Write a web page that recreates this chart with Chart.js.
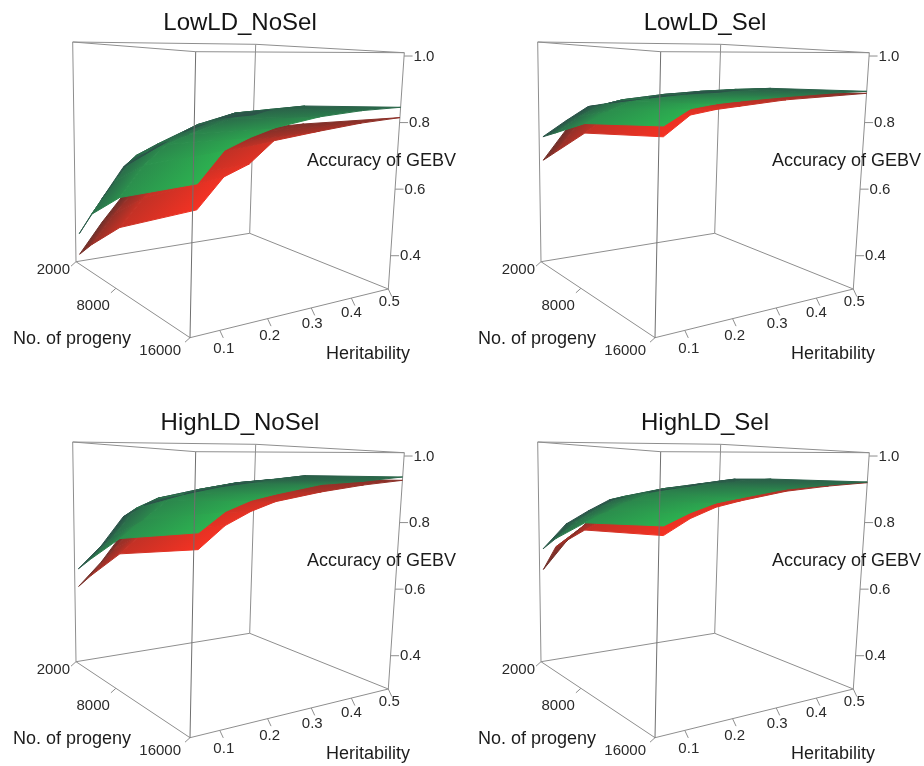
<!DOCTYPE html>
<html>
<head>
<meta charset="utf-8">
<title>Accuracy of GEBV surfaces</title>
<script src="https://cdn.jsdelivr.net/npm/chart.js@4"></script>
<style>
html,body{margin:0;padding:0;background:#fff;width:924px;height:766px;overflow:hidden}
#wrap{position:relative;width:924px;height:766px;overflow:hidden}
canvas{position:absolute;filter:blur(0.45px)}
</style>
</head>
<body>
<div id="wrap"></div>
<script>
// ---------- data ----------
const panelTitles = ["LowLD_NoSel", "LowLD_Sel", "HighLD_NoSel", "HighLD_Sel"];
const heritabilityLevels = [0.05, 0.1, 0.15, 0.2, 0.3, 0.4, 0.5];
const progenyLevels = [2000, 4000, 8000, 16000];
const heritabilityTicks = [0.1, 0.2, 0.3, 0.4, 0.5];
const progenyTicks = [2000, 8000, 16000];
const accuracyTicks = [0.4, 0.6, 0.8, 1.0];

// rows: heritability level; columns: progeny level
const lowNoSelGreen = [
  [.389,.472,.564,.681],[.492,.567,.652,.759],[.591,.646,.709,.787],[.627,.678,.736,.808],
  [.697,.735,.777,.831],[.739,.768,.801,.842],[.745,.773,.807,.846]];
const lowNoSelRed = [
  [.322,.377,.476,.616],[.415,.465,.555,.691],[.498,.538,.608,.718],[.55,.59,.66,.774],
  [.62,.65,.70,.791],[.665,.69,.73,.806],[.687,.709,.745,.815]];
const lowSelGreen = [
  [.703,.728,.781,.825],[.751,.775,.815,.865],[.795,.81,.84,.875],[.804,.825,.85,.88],
  [.817,.838,.86,.887],[.827,.845,.868,.892],[.83,.845,.868,.894]];
const lowSelRed = [
  [.627,.668,.753,.798],[.721,.755,.80,.849],[.748,.78,.82,.86],[.765,.795,.83,.866],
  [.785,.815,.85,.878],[.80,.825,.857,.883],[.805,.825,.855,.888]];
const highNoSelGreen = [
  [.599,.646,.737,.808],[.668,.715,.79,.858],[.76,.80,.845,.884],[.797,.83,.865,.898],
  [.83,.855,.89,.921],[.854,.875,.90,.927],[.868,.884,.912,.937]];
const highNoSelRed = [
  [.542,.594,.692,.766],[.615,.67,.75,.822],[.707,.75,.80,.855],[.75,.79,.835,.878],
  [.80,.83,.87,.90],[.83,.855,.89,.916],[.845,.865,.90,.927]];
const highSelGreen = [
  [.664,.71,.783,.825],[.74,.765,.815,.855],[.78,.805,.845,.877],[.815,.835,.865,.888],
  [.838,.858,.885,.908],[.854,.872,.895,.916],[.872,.886,.90,.922]];
const highSelRed = [
  [.597,.684,.762,.801],[.682,.735,.795,.84],[.746,.785,.83,.866],[.78,.815,.85,.88],
  [.81,.84,.875,.902],[.835,.86,.89,.913],[.85,.87,.895,.92]];

// ---------- view (camera) and style ----------
const panelGreen = [lowNoSelGreen, lowSelGreen, highNoSelGreen, highSelGreen];
const panelRed = [lowNoSelRed, lowSelRed, highNoSelRed, highSelRed];
const panelOrigins = [[0,0],[465,0],[0,400],[465,400]];
const CW = 480, CH = 366, TITLE_H = 37.8;
const Z_MIN = 0.3, Z_MAX = 1.01, H_MIN = 0.042, H_MAX = 0.5, N_MIN = 2000, N_MAX = 16000;
const K_N = 1.393, K_H = 0.82;
// box corners as seen by the camera: [heritability end][progeny end][accuracy end]
const cube = {
  l0:[76,261.7], l1:[72.7,42],
  f0:[190,337.7], f1:[195.7,51.7],
  r0:[388.3,289], r1:[404.3,52.7],
  b0:[249.7,233.3], b1:[255.7,44.3]
};
const warp = (t,k)=> t/(t+k*(1-t));
function project(h,n,z){
  const u = warp((h-H_MIN)/(H_MAX-H_MIN),K_H), v = warp((n-N_MIN)/(N_MAX-N_MIN),K_N), w = (z-Z_MIN)/(Z_MAX-Z_MIN);
  const mix = (a,b,t)=>[a[0]+(b[0]-a[0])*t, a[1]+(b[1]-a[1])*t];
  const lowZ = mix(mix(cube.l0,cube.b0,u), mix(cube.f0,cube.r0,u), v);
  const highZ = mix(mix(cube.l1,cube.b1,u), mix(cube.f1,cube.r1,u), v);
  const p = mix(lowZ,highZ,w);
  return {x:p[0], y:p[1]};
}
const rowShade = [0,.3,.65,1];
const colShade = [1,.95,.85,.75,.5,.3,.2];
const GREEN_RAMP = ['rgb(42,82,72)','rgb(44,178,80)'];
const RED_RAMP = ['rgb(110,48,42)','rgb(245,50,35)'];
const LINE = '#8e8e8e';
const FONT = '"Liberation Sans", Arial, sans-serif';

function cellGradient(ctx, pts, shades, ramp){
  const cx = pts.reduce((s,p)=>s+p.x,0)/4, cy = pts.reduce((s,p)=>s+p.y,0)/4, cb = shades.reduce((s,b)=>s+b,0)/4;
  let sxx=0,sxy=0,syy=0,sxb=0,syb=0;
  pts.forEach((p,i)=>{const dx=p.x-cx,dy=p.y-cy,db=shades[i]-cb;sxx+=dx*dx;sxy+=dx*dy;syy+=dy*dy;sxb+=dx*db;syb+=dy*db;});
  const det = sxx*syy-sxy*sxy;
  let gx=0,gy=0;
  if(Math.abs(det)>1e-3){gx=(sxb*syy-syb*sxy)/det;gy=(syb*sxx-sxb*sxy)/det;}
  const g2 = gx*gx+gy*gy;
  const ax = g2>1e-9 ? gx/g2 : 1, ay = g2>1e-9 ? gy/g2 : 0;
  const grad = ctx.createLinearGradient(cx-ax*cb, cy-ay*cb, cx+ax*(1-cb), cy+ay*(1-cb));
  grad.addColorStop(0,ramp[0]); grad.addColorStop(1,ramp[1]);
  return grad;
}
function surfaceDatasets(ctx, values, ramp){
  const out = [];
  for(let i=0;i<heritabilityLevels.length-1;i++){
    for(let j=0;j<progenyLevels.length-1;j++){
      const corners = [[i,j],[i+1,j],[i+1,j+1],[i,j+1]];
      const pts = corners.map(([a,b])=>project(heritabilityLevels[a],progenyLevels[b],values[a][b]));
      const shades = corners.map(([a,b])=>rowShade[b]*colShade[a]);
      const grad = cellGradient(ctx,pts,shades,ramp);
      out.push({data:[...pts,pts[0]],showLine:true,fill:'shape',backgroundColor:grad,borderColor:grad,borderWidth:1,pointRadius:0,tension:0,clip:false});
    }
  }
  return out;
}
const seg = (a,b,color,width)=>({data:[{x:a.x,y:a.y},{x:b.x,y:b.y}],showLine:true,fill:false,borderColor:color||LINE,borderWidth:width||1,pointRadius:0,clip:false});
const at = (h,n,z)=>project(h,n,z);

function buildPanel(index){
  const canvas = document.createElement('canvas');
  canvas.width = CW; canvas.height = CH;
  canvas.style.left = panelOrigins[index][0]+'px';
  canvas.style.top = panelOrigins[index][1]+'px';
  canvas.style.width = CW+'px'; canvas.style.height = CH+'px';
  document.getElementById('wrap').appendChild(canvas);
  const ctx = canvas.getContext('2d');

  const hA=H_MIN,hB=H_MAX,nA=N_MIN,nB=N_MAX,zA=Z_MIN,zB=Z_MAX;
  // paint order: back of the box, surfaces, front of the box, ticks
  const paint = [
    seg(at(hA,nA,zA),at(hB,nA,zA)), seg(at(hB,nA,zA),at(hB,nB,zA)),
    seg(at(hB,nA,zA),at(hB,nA,zB)),
    seg(at(hA,nA,zB),at(hB,nA,zB)), seg(at(hB,nA,zB),at(hB,nB,zB)),
    seg(at(hA,nA,zA),at(hA,nA,zB)),
    seg(at(hB,nB,zA),at(hB,nB,zB)),
    ...surfaceDatasets(ctx,panelRed[index],RED_RAMP),
    ...surfaceDatasets(ctx,panelGreen[index],GREEN_RAMP),
    seg(at(hA,nA,zA),at(hA,nB,zA)), seg(at(hA,nB,zA),at(hB,nB,zA)),
    seg(at(hA,nA,zB),at(hA,nB,zB)), seg(at(hA,nB,zB),at(hB,nB,zB)),
    seg(at(hA,nB,zA),at(hA,nB,zB),'#6f6f6f')
  ];
  accuracyTicks.forEach(z=>{const p=at(hB,nB,z);paint.push(seg(p,{x:p.x+8.5,y:p.y}));});
  heritabilityTicks.forEach(h=>{const p=at(h,nB,zA);paint.push(seg(p,{x:p.x+3.5,y:p.y+7.5}));});
  progenyTicks.forEach(n=>{const p=at(hA,n,zA);paint.push(seg(p,{x:p.x-5,y:p.y+4.5}));});

  const hOff=[[4,18],[2,17],[1,16],[0,15],[1,13]];
  const nOff=[[-6,8],[-6,18],[-9,13]];
  const labelPlugin = {
    id:'labels3d',
    afterDraw(chart){
      const c=chart.ctx, sx=chart.scales.x, sy=chart.scales.y;
      const put=(text,x,y,align,size,color)=>{
        c.font=size+'px '+FONT; c.fillStyle=color; c.textAlign=align; c.textBaseline='middle';
        c.fillText(text,sx.getPixelForValue(x),sy.getPixelForValue(y));
      };
      c.save();
      accuracyTicks.forEach(z=>{const p=at(hB,nB,z);put(z.toFixed(1),p.x+9.5,p.y+0.5,'left',15,'#2a2a2a');});
      heritabilityTicks.forEach((h,i)=>{const p=at(h,nB,zA);put(h.toFixed(1),p.x+hOff[i][0],p.y+hOff[i][1],'center',15,'#2a2a2a');});
      progenyTicks.forEach((n,i)=>{const p=at(hA,n,zA);put(String(n),p.x+nOff[i][0],p.y+nOff[i][1],'right',15,'#2a2a2a');});
      put('No. of progeny',72,339,'center',18,'#1c1c1c');
      put('Heritability',368,354.5,'center',18,'#1c1c1c');
      put('Accuracy of GEBV',381.5,161,'center',18,'#1c1c1c');
      c.restore();
    }
  };
  new Chart(canvas,{
    type:'scatter',
    data:{datasets:paint.reverse()},
    plugins:[labelPlugin],
    options:{
      responsive:false,animation:false,events:[],
      layout:{padding:0},
      plugins:{
        legend:{display:false},tooltip:{enabled:false},
        title:{display:true,text:panelTitles[index],color:'#151515',
          font:{family:FONT,size:24,weight:'normal',lineHeight:1.2},padding:{top:9,bottom:0}}
      },
      scales:{
        x:{type:'linear',display:false,min:0,max:CW},
        y:{type:'linear',display:false,reverse:true,min:TITLE_H,max:CH}
      }
    }
  });
}
panelTitles.forEach((t,i)=>buildPanel(i));
</script>
</body>
</html>
